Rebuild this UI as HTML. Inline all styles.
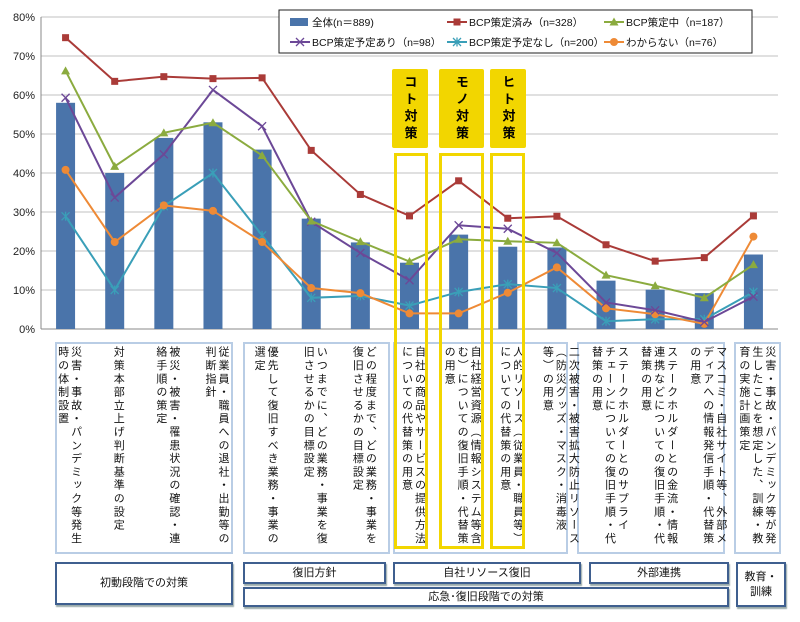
<!DOCTYPE html>
<html><head><meta charset="utf-8">
<style>
html,body{margin:0;padding:0;background:#fff;}
body{width:800px;height:622px;position:relative;overflow:hidden;font-family:"Liberation Sans","Noto Sans CJK JP",sans-serif;}
svg{position:absolute;left:0;top:0;}
.lbl{position:absolute;top:346px;writing-mode:vertical-rl;white-space:nowrap;font-size:11px;line-height:13px;letter-spacing:2.3px;color:#111;font-family:"Liberation Sans","Noto Sans CJK JP",sans-serif;}
.box{position:absolute;box-sizing:border-box;}
.lb{border:2px solid #b9cde5;}
.gb{border:2px solid #3f5f8f;box-shadow:1px 2px 1px #9aa;display:flex;align-items:center;justify-content:center;font-size:11px;color:#111;text-align:center;line-height:15px;}
.yh{background:#f2d600;border-radius:2px;writing-mode:vertical-rl;font-weight:bold;font-size:13px;display:flex;align-items:center;justify-content:center;letter-spacing:4px;}
.yo{border:3px solid #f2d600;}
</style></head><body>
<svg id="chart" width="800" height="622"></svg>

<div class="box lb" style="left:55px;top:342px;width:178px;height:212px"></div>
<div class="box lb" style="left:243px;top:342px;width:147px;height:212px"></div>
<div class="box lb" style="left:393px;top:342px;width:175px;height:212px"></div>
<div class="box lb" style="left:577px;top:342px;width:148px;height:212px"></div>
<div class="box lb" style="left:734px;top:342px;width:47px;height:212px"></div>

<div id="labels"></div>

<div class="box yh" style="left:392px;top:69px;width:36px;height:79px">コト対策</div>
<div class="box yh" style="left:439px;top:69px;width:45px;height:79px">モノ対策</div>
<div class="box yh" style="left:490px;top:69px;width:36px;height:79px">ヒト対策</div>
<div class="box yo" style="left:394px;top:153px;width:34px;height:396px"></div>
<div class="box yo" style="left:439px;top:153px;width:45px;height:396px"></div>
<div class="box yo" style="left:490px;top:153px;width:35px;height:396px"></div>

<div class="box gb" style="left:55px;top:562px;width:178px;height:43px">初動段階での対策</div>
<div class="box gb" style="left:243px;top:562px;width:143px;height:22px">復旧方針</div>
<div class="box gb" style="left:393px;top:562px;width:188px;height:22px">自社リソース復旧</div>
<div class="box gb" style="left:589px;top:562px;width:140px;height:22px">外部連携</div>
<div class="box gb" style="left:243px;top:587px;width:486px;height:20px">応急･復旧段階での対策</div>
<div class="box gb" style="left:736px;top:562px;width:50px;height:45px">教育・<br>訓練</div>

<script>
const categories=[
"災害・事故・パンデミック等発生|時の体制設置",
"対策本部立上げ判断基準の設定",
"被災・被害・罹患状況の確認・連|絡手順の策定",
"従業員・職員への退社・出勤等の|判断指針",
"優先して復旧すべき業務・事業の|選定",
"いつまでに、どの業務・事業を復|旧させるかの目標設定",
"どの程度まで、どの業務・事業を|復旧させるかの目標設定",
"自社の商品やサービスの提供方法|についての代替策の用意",
"自社経営資源（情報システム等含|む）についての復旧手順・代替策|の用意",
"人的リソース（従業員・職員等）|についての代替策の用意",
"二次被害・被害拡大防止リソース|（防災グッズ・マスク・消毒液|等）の用意",
"ステークホルダーとのサプライ|チェーンについての復旧手順・代|替策の用意",
"ステークホルダーとの金流・情報|連携などについての復旧手順・代|替策の用意",
"マスコミ・自社サイト等、外部メ|ディアへの情報発信手順・代替策|の用意",
"災害・事故・パンデミック等が発|生したことを想定した、訓練・教|育の実施計画策定"];
const barAll=[58,40,49,53,46,28.3,22.2,17,24.2,21.1,20.9,12.4,10.1,9.2,19.1];
const seriesDone=[74.7,63.5,64.7,64.2,64.4,45.8,34.5,29,38,28.4,28.9,21.6,17.4,18.3,29];
const seriesInProg=[66.2,41.7,50.3,52.9,44.5,27.7,22.4,17.3,23,22.5,22.1,13.8,11.1,8,16.5];
const seriesPlanned=[59.3,33.7,44.8,61.3,52,27.5,19.5,12.5,26.6,25.7,19.5,6.8,4.8,1.8,8.3];
const seriesNoPlan=[28.9,10,31.5,40,24,8,8.5,6,9.5,11.5,10.5,2,2.5,2.5,9.5];
const seriesUnknown=[40.8,22.3,31.7,30.3,22.3,10.5,9.2,4,4,9.3,15.8,5.3,3.8,1.3,23.7];
const yTicks=[0,10,20,30,40,50,60,70,80];

const NS="http://www.w3.org/2000/svg";
const svg=document.getElementById('chart');
const X0=41,X1=778,Y0=329,Y1=17;
const step=(X1-X0)/categories.length;
const xs=i=>X0+step*(i+0.5);
const ys=v=>Y0-(v/80)*(Y0-Y1);
function mk(t,a,p){const e=document.createElementNS(NS,t);for(const k in a)e.setAttribute(k,a[k]);(p||svg).appendChild(e);return e;}

yTicks.forEach(t=>{
  const g=mk('line',{x1:X0,x2:X1,y1:ys(t),y2:ys(t),stroke:t===0?'#888':'#c0c0c0','stroke-width':1});
  
  
  const tx=mk('text',{x:35,y:ys(t)+4,'text-anchor':'end','font-size':11,fill:'#222'});
  tx.textContent=t+'%';
  
  
});
const ax=mk('line',{x1:X0,x2:X0,y1:Y1,y2:Y0,stroke:'#888'});



barAll.forEach((v,i)=>{
  const r=mk('rect',{x:xs(i)-9.5,y:ys(v),width:19,height:Y0-ys(v),fill:'#4a74aa'});
  
  
});

function marker(type,x,y,c,g){
  if(type==='sq')mk('rect',{x:x-3.5,y:y-3.5,width:7,height:7,fill:c},g);
  else if(type==='tri')mk('polygon',{points:`${x},${y-4.5} ${x+4.5},${y+3.5} ${x-4.5},${y+3.5}`,fill:c},g);
  else if(type==='x'){mk('path',{d:`M${x-4} ${y-4}L${x+4} ${y+4}M${x-4} ${y+4}L${x+4} ${y-4}`,stroke:c,'stroke-width':1.3,fill:'none'},g);}
  else if(type==='ast'){mk('path',{d:`M${x-4} ${y-4}L${x+4} ${y+4}M${x-4} ${y+4}L${x+4} ${y-4}M${x} ${y-4.5}L${x} ${y+4.5}`,stroke:c,'stroke-width':1.3,fill:'none'},g);}
  else mk('circle',{cx:x,cy:y,r:4,fill:c},g);
}
const series=[
 {d:seriesNoPlan,c:'#3a9fb8',m:'ast',n:'no-plan'},
 {d:seriesUnknown,c:'#ee8a36',m:'ci',n:'unknown'},
 {d:seriesPlanned,c:'#6c4897',m:'x',n:'planned'},
 {d:seriesInProg,c:'#8bab3f',m:'tri',n:'in-progress'},
 {d:seriesDone,c:'#aa3b38',m:'sq',n:'done'}];
series.forEach(s=>{
  const g=mk('g',{});
  
  
  mk('polyline',{points:s.d.map((v,i)=>xs(i)+','+ys(v)).join(' '),fill:'none',stroke:s.c,'stroke-width':2},g);
  s.d.forEach((v,i)=>marker(s.m,xs(i),ys(v),s.c,g));
});

// legend
const lg=mk('g',{});


mk('rect',{x:279,y:10,width:473,height:43,fill:'#fff',stroke:'#222','stroke-width':1},lg);
const legendItems=[
 ['bar','#4a74aa','全体(n＝889)',290,22],
 ['sq','#aa3b38','BCP策定済み（n=328）',447,22],
 ['tri','#8bab3f','BCP策定中（n=187）',604,22],
 ['x','#6c4897','BCP策定予定あり（n=98）',290,42],
 ['ast','#3a9fb8','BCP策定予定なし（n=200）',447,42],
 ['ci','#ee8a36','わからない（n=76）',604,42]];
legendItems.forEach(it=>{
  const g=mk('g',{},lg);
  
  
  const [m,c,t,x,y]=it;
  if(m==='bar')mk('rect',{x:x,y:y-4,width:18,height:8,fill:c},g);
  else{mk('line',{x1:x,x2:x+20,y1:y,y2:y,stroke:c,'stroke-width':2},g);marker(m,x+10,y,c,g);}
  const tx=mk('text',{x:x+22,y:y+4,'font-size':10.5,fill:'#111'},g);
  tx.textContent=t;
});

// category labels
const lw=document.getElementById('labels');
categories.forEach((c,i)=>{
  const d=document.createElement('div');
  d.className='lbl';
  
  
  const cols=c.split('|');
  d.innerHTML=cols.join('<br>');
  const w=cols.length*13;
  d.style.left=(xs(i)+3-w/2)+'px';
  lw.appendChild(d);
});
</script>
</body></html>
